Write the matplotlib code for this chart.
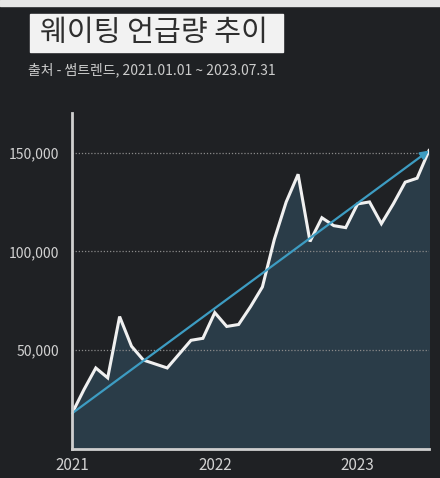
import matplotlib
matplotlib.use('Agg')
import matplotlib.pyplot as plt
import numpy as np

# monthly mentions, 2021.01 ~ 2023.07
months = list(range(31))
mentions = [18000, 30000, 41000, 36000, 67000, 52000, 45000, 43000, 41000, 48000,
            55000, 56000, 69000, 62000, 63000, 72000, 82000, 106000, 125000, 139000,
            105000, 117000, 113000, 112000, 124000, 125000, 114000, 124000, 135000,
            137000, 151000]
year_ticks = [0, 12, 24]
year_labels = ['2021', '2022', '2023']
y_ticks = [50000, 100000, 150000]
y_labels = ['50,000', '100,000', '150,000']

bg = '#1f2124'
plt.rcParams['font.family'] = ['Noto Sans CJK KR', 'DejaVu Sans']

fig = plt.figure(figsize=(4.4, 4.78), dpi=100, facecolor=bg)
ax = fig.add_axes([72/440, 1 - 449/478, 357/440, 336/478])
ax.set_facecolor(bg)

# area + line
ax.fill_between(months, mentions, 0, color='#2a3c48', zorder=1)
ax.plot(months, mentions, color='#f0f0f0', lw=2.2, zorder=3, solid_joinstyle='miter')

# trend arrow from first to last point
ax.annotate('', xy=(months[-1], mentions[-1]), xytext=(months[0], mentions[0]),
            arrowprops=dict(arrowstyle='-|>', color='#3d9cc2', lw=1.6,
                            mutation_scale=12, shrinkA=0, shrinkB=0), zorder=4)

ax.set_xlim(0, 30)
ax.set_ylim(0, 170000)
ax.set_xticks(year_ticks)
ax.set_xticklabels(year_labels)
ax.set_yticks(y_ticks)
ax.set_yticklabels(y_labels)
ax.tick_params(length=0, colors='#d2d2d2', labelsize=10)
ax.tick_params(axis='x', pad=6, labelsize=11)
ax.tick_params(axis='y', pad=9)
for lab in ax.get_xticklabels() + ax.get_yticklabels():
    lab.set_fontweight('medium')
ax.grid(axis='y', color='#8a8a8a', ls=(0, (1, 1.5)), lw=0.9, zorder=2)

for s in ['top', 'right']:
    ax.spines[s].set_visible(False)
for s in ['left', 'bottom']:
    ax.spines[s].set_color('#cfcfcf')
    ax.spines[s].set_linewidth(2)
    ax.spines[s].set_zorder(5)

# title box and source line
fig.patches.append(plt.Rectangle((30/440, 1 - 52/478), 253/440, 38/478,
                                 transform=fig.transFigure, color='#f2f2f2', zorder=1))
fig.text(40/440, 1 - 33/478, '웨이팅 언급량 추이', fontsize=21, color='#2e2e2e',
         va='center', ha='left', fontweight='medium', zorder=2)
fig.text(28/440, 1 - 70/478, '출처 - 썸트렌드, 2021.01.01 ~ 2023.07.31', fontsize=10,
         color='#cccccc', va='center', ha='left', fontweight='medium')

# light strip at the very top of the screenshot
fig.patches.append(plt.Rectangle((0, 1 - 6/478), 1, 6/478, transform=fig.transFigure,
                                 color='#e6e6e6', zorder=0))

fig.savefig('out.png', dpi=100, facecolor=bg)
